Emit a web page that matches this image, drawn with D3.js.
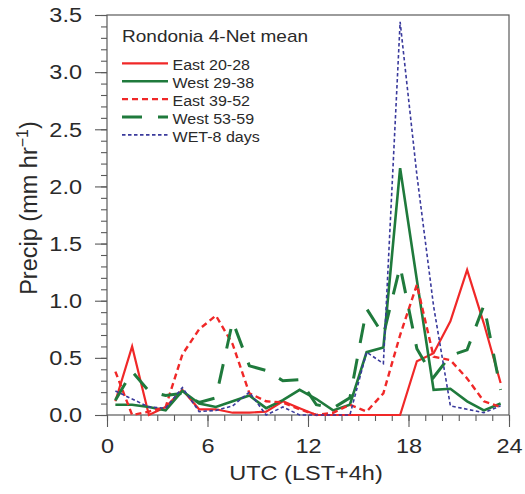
<!DOCTYPE html>
<html>
<head>
<meta charset="utf-8">
<script src="https://cdn.jsdelivr.net/npm/d3@7/dist/d3.min.js"></script>
<style>
  html, body { margin: 0; padding: 0; background: #ffffff; }
  svg { display: block; }
  text { font-family: "Liberation Sans", Arial, Helvetica, sans-serif; fill: #2a2a2a; }
</style>
</head>
<body>
<svg id="chart" width="525" height="494"></svg>
<script>
// Hour-of-day bins (UTC), centred on each half hour
const hours = [0.5, 1.5, 2.5, 3.5, 4.5, 5.5, 6.5, 7.5, 8.5, 9.5, 10.5, 11.5,
               12.5, 13.5, 14.5, 15.5, 16.5, 17.5, 18.5, 19.5, 20.5, 21.5, 22.5, 23.5];

// Mean precipitation (mm/hr) per hour for each group
const east2028 = [0.12, 0.60, 0.00, 0.07, 0.22, 0.05, 0.05, 0.02, 0.02, 0.03, 0.12, 0.06,
                  0.00, 0.00, 0.00, 0.00, 0.00, 0.00, 0.47, 0.54, 0.82, 1.27, 0.80, 0.28];
const west2938 = [0.09, 0.09, 0.07, 0.04, 0.21, 0.10, 0.07, 0.12, 0.17, 0.06, 0.13, 0.22,
                  0.14, 0.04, 0.09, 0.55, 0.59, 2.16, 1.18, 0.22, 0.23, 0.12, 0.04, 0.10];
const east3952 = [0.38, 0.00, 0.03, 0.07, 0.53, 0.75, 0.87, 0.62, 0.19, 0.12, 0.11, 0.05,
                  0.00, 0.02, 0.09, 0.03, 0.19, 0.70, 1.14, 0.51, 0.48, 0.32, 0.12, 0.07];
const west5359 = [0.13, 0.38, 0.21, 0.17, 0.19, 0.11, 0.15, 0.82, 0.43, 0.39, 0.30, 0.31,
                  0.09, 0.06, 0.15, 0.93, 0.70, 1.30, 0.58, 0.33, 0.52, 0.57, 0.96, 0.22];
const wet8days = [0.21, 0.14, 0.07, 0.06, 0.24, 0.03, 0.04, 0.08, 0.20, 0.00, 0.07, 0.00,
                  0.00, 0.00, 0.00, 0.55, 0.45, 3.44, 2.10, 0.95, 0.08, 0.05, 0.02, 0.08];

const seriesNames = ["East 20-28", "West 29-38", "East 39-52", "West 53-59", "WET-8 days"];
const xTickValues = [0, 6, 12, 18, 24];
const yTickValues = [0, 0.5, 1.0, 1.5, 2.0, 2.5, 3.0, 3.5];

const chartTitle = "Rondonia 4-Net mean";
const xTitle = "UTC (LST+4h)";

// Line styles for each group
const styles = [
  { color: "#f02828", width: 2.2, dash: null },
  { color: "#1f7a3c", width: 2.6, dash: null },
  { color: "#f02828", width: 2.4, dash: "6,4" },
  { color: "#1f7a3c", width: 3.0, dash: "20,16" },
  { color: "#3a3a9c", width: 1.6, dash: "3.5,2.5" }
];
const seriesValues = [east2028, west2938, east3952, west5359, wet8days];

// Horizontal text stretch used throughout the figure's lettering
const stretch = 1.12;

const svg = d3.select("#chart");
const plotLeft = 107, plotRight = 509, plotTop = 15, plotBottom = 415;

const x = d3.scaleLinear().domain([0, 24]).range([plotLeft, plotRight]);
const y = d3.scaleLinear().domain([0, 3.5]).range([plotBottom, plotTop]);

const axisColor = "#5a5a5a";

// Plot frame
svg.append("rect")
  .attr("x", plotLeft).attr("y", plotTop)
  .attr("width", plotRight - plotLeft).attr("height", plotBottom - plotTop)
  .attr("fill", "none").attr("stroke", axisColor).attr("stroke-width", 1.2);

// Y axis: minor ticks every 0.1, major every 0.5
const yMinor = d3.axisLeft(y).tickValues(d3.range(0, 36).map(d => d / 10))
  .tickSize(6).tickFormat("");
const gyMinor = svg.append("g").attr("transform", `translate(${plotLeft},0)`).call(yMinor);
const yMajor = d3.axisLeft(y).tickValues(yTickValues).tickSize(12).tickPadding(13)
  .tickFormat(d3.format(".1f"));
const gy = svg.append("g").attr("transform", `translate(${plotLeft},0)`).call(yMajor);

// X axis: minor ticks every hour, major every 6
const xMinor = d3.axisBottom(x).tickValues(d3.range(0, 25)).tickSize(6).tickFormat("");
const gxMinor = svg.append("g").attr("transform", `translate(0,${plotBottom})`).call(xMinor);
const xMajor = d3.axisBottom(x).tickValues(xTickValues).tickSize(12).tickPadding(11)
  .tickFormat(d3.format("d"));
const gx = svg.append("g").attr("transform", `translate(0,${plotBottom})`).call(xMajor);

[gyMinor, gy, gxMinor, gx].forEach(g => {
  g.select(".domain").remove();
  g.selectAll(".tick line").attr("stroke", axisColor).attr("stroke-width", 1.1);
});
gy.selectAll(".tick text")
  .attr("font-size", 21).attr("fill", "#2a2a2a")
  .attr("x", -25 / stretch)
  .attr("transform", `scale(${stretch},1)`);
gx.selectAll(".tick text")
  .attr("font-size", 21).attr("fill", "#2a2a2a")
  .attr("transform", `scale(${stretch},1)`);

// Axis titles
svg.append("text")
  .attr("transform", `translate(306,480) scale(${stretch},1)`)
  .attr("text-anchor", "middle").attr("font-size", 21)
  .text(xTitle);

const yt = svg.append("text")
  .attr("transform", "translate(36.5,208) rotate(-90)")
  .attr("text-anchor", "middle").attr("font-size", 23.5);
yt.append("tspan").text("Precip  (mm hr");
yt.append("tspan").attr("dy", -9).attr("font-size", 16).text("\u22121");
yt.append("tspan").attr("dy", 9).text(")");

// Data lines
const line = d3.line().x(d => x(d[0])).y(d => y(d[1]));
seriesValues.forEach((vals, i) => {
  const s = styles[i];
  svg.append("path")
    .datum(hours.map((h, j) => [h, vals[j]]))
    .attr("d", line)
    .attr("fill", "none")
    .attr("stroke", s.color)
    .attr("stroke-width", s.width)
    .attr("stroke-linejoin", "miter")
    .attr("stroke-dasharray", s.dash);
});

// Legend
svg.append("text")
  .attr("transform", `translate(122,41.5) scale(${stretch},1)`)
  .attr("font-size", 17)
  .text(chartTitle);

const legend = svg.append("g");
seriesNames.forEach((name, i) => {
  const s = styles[i];
  const cy = 63.3 + i * 17.9;
  legend.append("line")
    .attr("x1", 122).attr("x2", 168).attr("y1", cy).attr("y2", cy)
    .attr("stroke", s.color).attr("stroke-width", s.width)
    .attr("stroke-dasharray", s.dash);
  legend.append("text")
    .attr("transform", `translate(172.5,${cy + 7}) scale(1.07,1)`)
    .attr("font-size", 15)
    .text(name);
});
</script>
</body>
</html>
